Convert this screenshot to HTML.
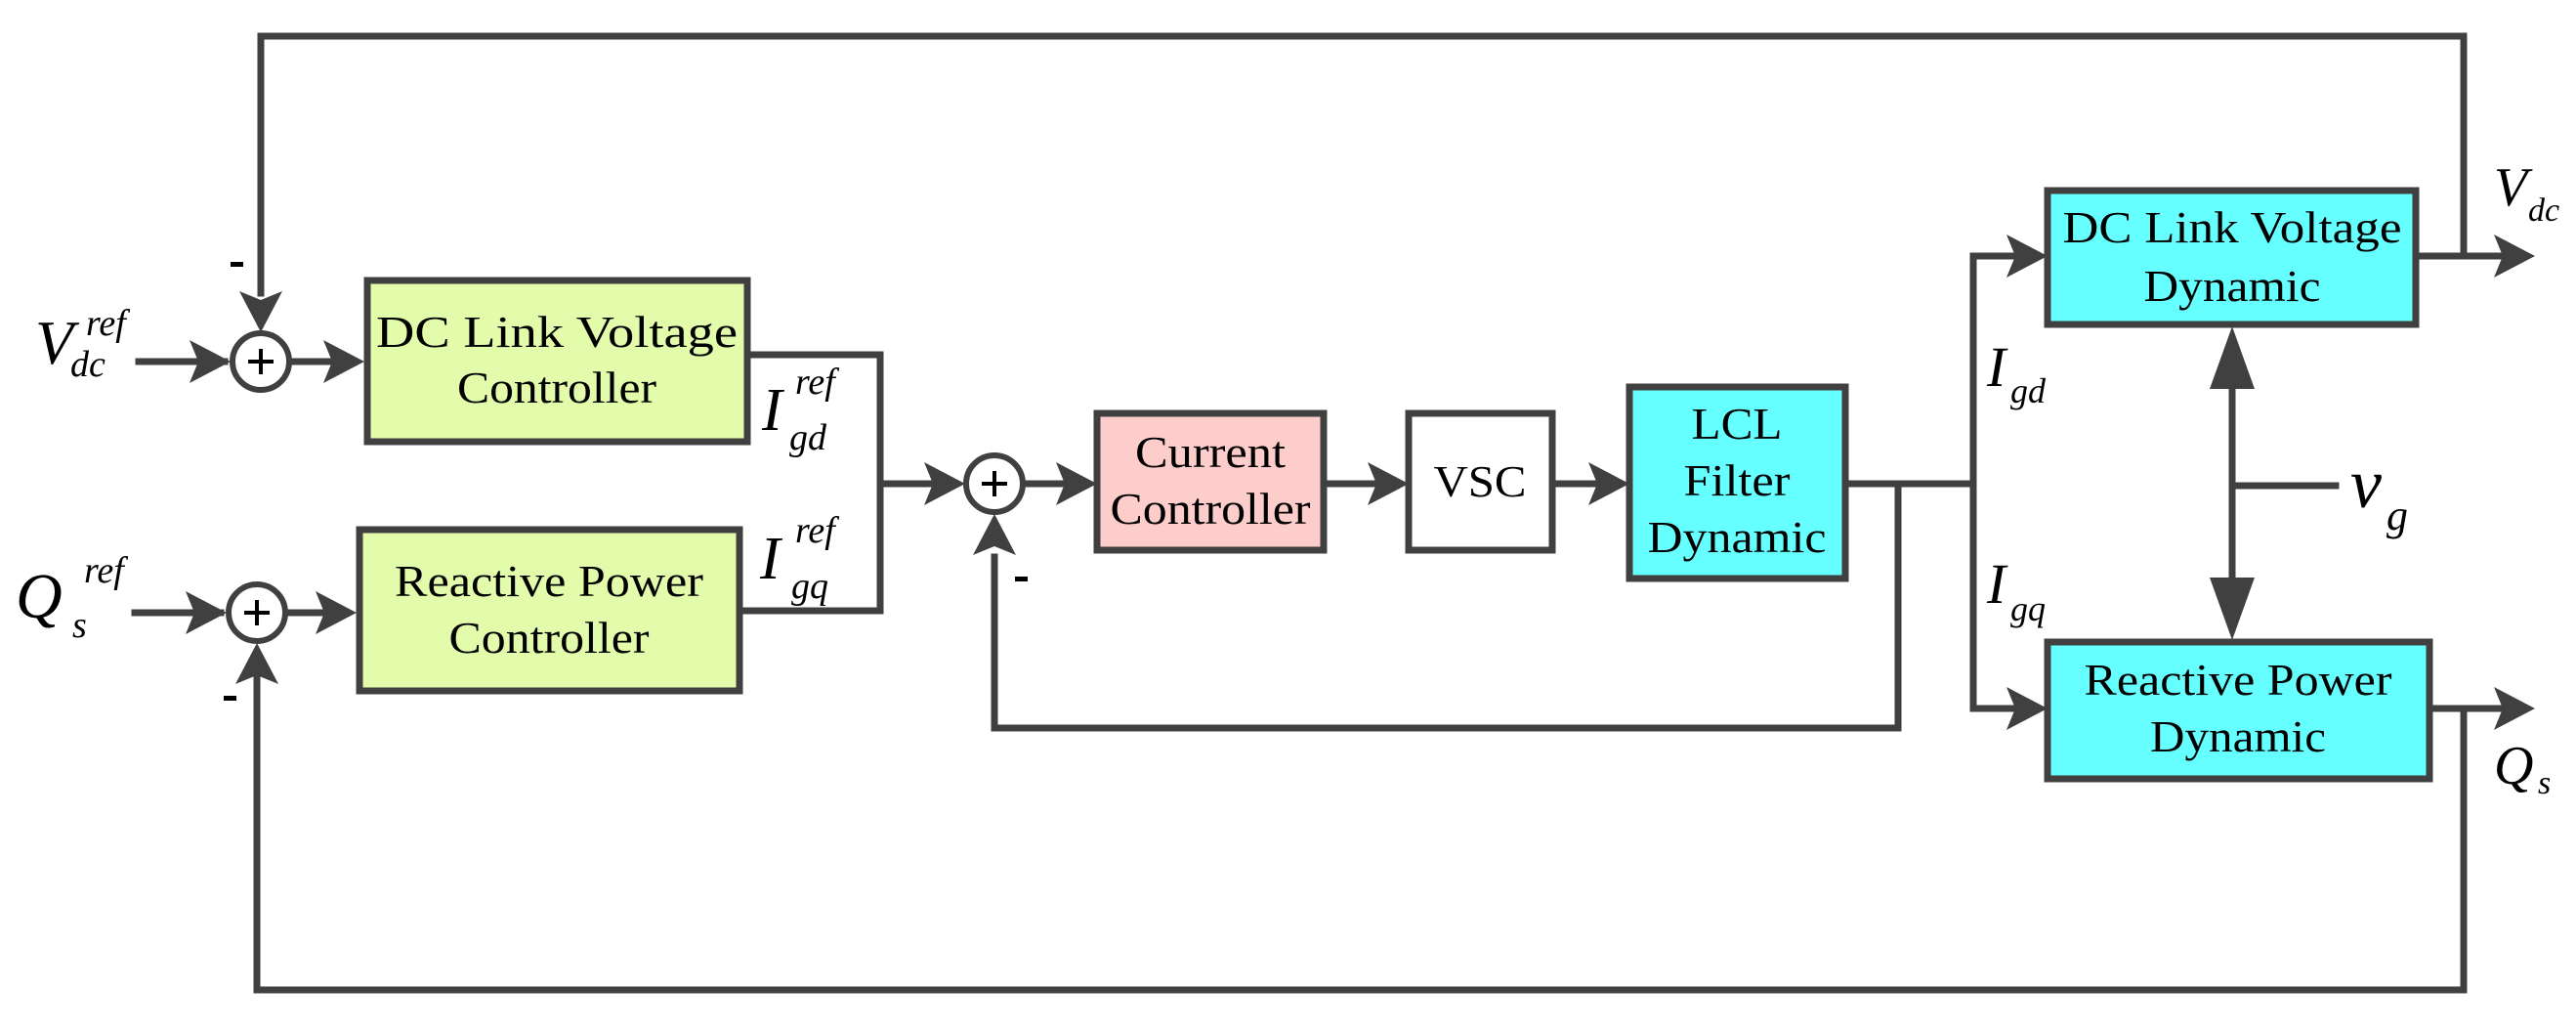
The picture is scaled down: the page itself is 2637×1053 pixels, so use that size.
<!DOCTYPE html>
<html><head><meta charset="utf-8"><style>
html,body{margin:0;padding:0;background:#fff}
svg{display:block}
text{font-family:"Liberation Serif","Times New Roman","DejaVu Serif",serif;fill:#000}
.b{font-size:46px;text-anchor:middle}
.i{font-style:italic}
</style></head><body>
<svg width="2637" height="1053" viewBox="0 0 2637 1053" xmlns="http://www.w3.org/2000/svg">
<defs>
<path id="ar" d="M0,0 L-42,-22 L-33,0 L-42,22 Z" fill="#404040"/>
</defs>
<g stroke="#404040" stroke-width="7" fill="none" stroke-linecap="square">
<polyline points="2522,262 2522,37 267,37 267,300"/>
<polyline points="2522,725 2522,1013 263,1013 263,690"/>
<line x1="142" y1="370" x2="230" y2="370"/>
<line x1="138" y1="627" x2="226" y2="627"/>
<line x1="297" y1="370" x2="360" y2="370"/>
<line x1="293" y1="627" x2="352" y2="627"/>
<polyline points="765,363 901,363 901,625 757,625"/>
<line x1="901" y1="495" x2="975" y2="495"/>
<line x1="1048" y1="495" x2="1110" y2="495"/>
<line x1="1355" y1="495" x2="1430" y2="495"/>
<line x1="1589" y1="495" x2="1655" y2="495"/>
<line x1="1889" y1="495" x2="2020" y2="495"/>
<polyline points="1943,495 1943,745 1018,745 1018,570"/>
<polyline points="2085,262 2020,262 2020,725 2085,725"/>
<line x1="2473" y1="262" x2="2570" y2="262"/>
<line x1="2487" y1="725" x2="2570" y2="725"/>
<line x1="2285" y1="370" x2="2285" y2="620"/>
<line x1="2285" y1="497" x2="2391" y2="497"/>
</g>
<use href="#ar" transform="translate(236,370)"/>
<use href="#ar" transform="translate(232,627)"/>
<use href="#ar" transform="translate(373,370)"/>
<use href="#ar" transform="translate(365,627)"/>
<use href="#ar" transform="translate(267,340) rotate(90)"/>
<use href="#ar" transform="translate(263,658) rotate(-90)"/>
<use href="#ar" transform="translate(988,495)"/>
<use href="#ar" transform="translate(1123,495)"/>
<use href="#ar" transform="translate(1442,495)"/>
<use href="#ar" transform="translate(1668,495)"/>
<use href="#ar" transform="translate(1018,526) rotate(-90)"/>
<use href="#ar" transform="translate(2096,262)"/>
<use href="#ar" transform="translate(2096,725)"/>
<use href="#ar" transform="translate(2595,262)"/>
<use href="#ar" transform="translate(2595,725)"/>
<path d="M2285,334 L2262,398 L2308,398 Z" fill="#404040"/>
<path d="M2285,655 L2262,591 L2308,591 Z" fill="#404040"/>
<g stroke="#404040" stroke-width="6" fill="#fff">
<circle cx="267" cy="370" r="29"/>
<circle cx="263" cy="627" r="29"/>
<circle cx="1018" cy="495" r="29"/>
</g>
<g stroke="#000" stroke-width="4">
<line x1="254" y1="370" x2="280" y2="370"/><line x1="267" y1="357" x2="267" y2="383"/>
<line x1="250" y1="627" x2="276" y2="627"/><line x1="263" y1="614" x2="263" y2="640"/>
<line x1="1005" y1="495" x2="1031" y2="495"/><line x1="1018" y1="482" x2="1018" y2="508"/>
</g>
<g fill="#000">
<rect x="236" y="268" width="13" height="5"/>
<rect x="229" y="712" width="13" height="5"/>
<rect x="1039" y="590" width="13" height="5"/>
</g>
<g stroke="#404040" stroke-width="7">
<rect x="376" y="287" width="389" height="165" fill="#e3fcab"/>
<rect x="368" y="542" width="389" height="165" fill="#e3fcab"/>
<rect x="1123" y="423" width="232" height="140" fill="#fdcdcb"/>
<rect x="1442" y="423" width="147" height="140" fill="#fff"/>
<rect x="1668" y="396" width="221" height="196" fill="#66ffff"/>
<rect x="2096" y="195" width="377" height="137" fill="#66ffff"/>
<rect x="2096" y="657" width="391" height="140" fill="#66ffff"/>
</g>
<text class="b" x="570" y="355" textLength="370" lengthAdjust="spacingAndGlyphs">DC Link Voltage</text>
<text class="b" x="570" y="412" textLength="204" lengthAdjust="spacingAndGlyphs">Controller</text>
<text class="b" x="562" y="610" textLength="316" lengthAdjust="spacingAndGlyphs">Reactive Power</text>
<text class="b" x="562" y="668" textLength="205" lengthAdjust="spacingAndGlyphs">Controller</text>
<text class="b" x="1239" y="478" textLength="154" lengthAdjust="spacingAndGlyphs">Current</text>
<text class="b" x="1239" y="536" textLength="205" lengthAdjust="spacingAndGlyphs">Controller</text>
<text class="b" x="1515" y="508" textLength="95" lengthAdjust="spacingAndGlyphs">VSC</text>
<text class="b" x="1778" y="449" textLength="93" lengthAdjust="spacingAndGlyphs">LCL</text>
<text class="b" x="1778" y="507" textLength="109" lengthAdjust="spacingAndGlyphs">Filter</text>
<text class="b" x="1778" y="565" textLength="183" lengthAdjust="spacingAndGlyphs">Dynamic</text>
<text class="b" x="2285" y="248" textLength="347" lengthAdjust="spacingAndGlyphs">DC Link Voltage</text>
<text class="b" x="2285" y="308" textLength="181" lengthAdjust="spacingAndGlyphs">Dynamic</text>
<text class="b" x="2291" y="711" textLength="315" lengthAdjust="spacingAndGlyphs">Reactive Power</text>
<text class="b" x="2291" y="769" textLength="180" lengthAdjust="spacingAndGlyphs">Dynamic</text>
<text class="i" x="36" y="372" font-size="64">V</text>
<text class="i" x="88" y="343" font-size="38">ref</text>
<text class="i" x="72" y="385" font-size="38">dc</text>
<text class="i" x="16" y="632" font-size="66">Q</text>
<text class="i" x="86" y="596" font-size="38">ref</text>
<text class="i" x="74" y="652" font-size="38">s</text>
<text class="i" x="780" y="440" font-size="62">I</text>
<text class="i" x="814" y="403" font-size="38">ref</text>
<text class="i" x="808" y="460" font-size="38">gd</text>
<text class="i" x="778" y="592" font-size="62">I</text>
<text class="i" x="814" y="555" font-size="38">ref</text>
<text class="i" x="810" y="612" font-size="38">gq</text>
<text class="i" x="2034" y="395" font-size="58">I</text>
<text class="i" x="2058" y="412" font-size="36">gd</text>
<text class="i" x="2034" y="617" font-size="58">I</text>
<text class="i" x="2058" y="635" font-size="36">gq</text>
<text class="i" x="2406" y="519" font-size="72">v</text>
<text class="i" x="2443" y="542" font-size="44">g</text>
<text class="i" x="2553" y="210" font-size="56">V</text>
<text class="i" x="2588" y="226" font-size="34">dc</text>
<text class="i" x="2553" y="802" font-size="56">Q</text>
<text class="i" x="2598" y="812" font-size="34">s</text>
</svg>
</body></html>
